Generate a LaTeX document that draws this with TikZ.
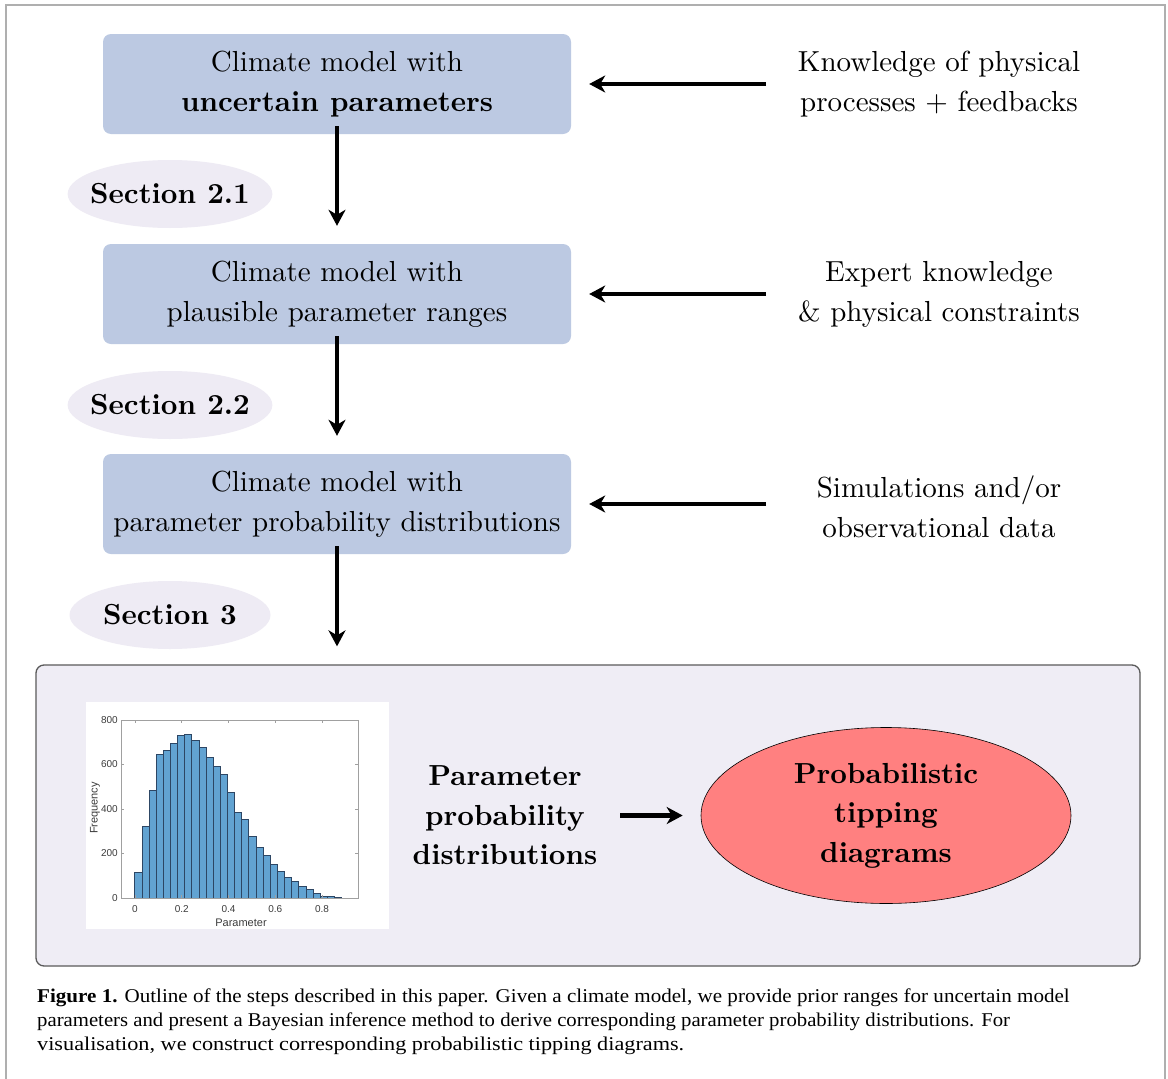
\documentclass[tikz,border=0pt]{standalone}
\usepackage{fontspec}
\newfontfamily\lmten{lmroman10-regular.otf}[BoldFont=lmroman10-bold.otf]
\newfontfamily\capfont{Liberation Serif}[FakeStretch=1.14]
\newfontfamily\plotfont{Liberation Sans}
\usetikzlibrary{shapes.geometric,arrows.meta}
\definecolor{boxblue}{RGB}{188,201,226}
\definecolor{seclav}{RGB}{238,235,244}
\definecolor{panelfill}{RGB}{239,237,245}
\definecolor{panelline}{RGB}{90,90,90}
\definecolor{tipred}{RGB}{255,128,128}
\definecolor{barblue}{RGB}{98,163,210}
\definecolor{baredge}{RGB}{45,70,100}
\definecolor{framegray}{RGB}{175,175,175}
\definecolor{axisgray}{RGB}{160,160,160}
\definecolor{ticklab}{RGB}{60,60,60}
\begin{document}
\begin{tikzpicture}[x=1pt,y=-1pt,
  mainfont/.style={font=\lmten\fontsize{29}{40}\selectfont},
  boldfont/.style={font=\lmten\bfseries\fontsize{29}{39.5}\selectfont},
  modelbox/.style={mainfont, fill=boxblue, rounded corners=8pt, minimum width=468pt, minimum height=100pt, align=center, inner sep=0pt},
  sidetext/.style={mainfont, align=center, inner sep=0pt},
  secell/.style={ellipse, fill=seclav, minimum width=201pt, minimum height=68pt, inner xsep=-7.5pt, inner ysep=0pt, boldfont},
  bigarrow/.style={line width=4.5pt, -{Stealth[length=16pt,width=17pt,inset=5pt]}},
  ticklabel/.style={font=\plotfont\fontsize{10}{12}\selectfont, text=ticklab, inner sep=0pt},
  axlabel/.style={font=\plotfont\fontsize{11}{13}\selectfont, text=ticklab, inner sep=0pt},
]
\useasboundingbox (0,0) rectangle (1168,1079);
\fill[white] (0,0) rectangle (1168,1079);
\draw[framegray, line width=1.2pt] (6,1079) -- (6,5) -- (1165,5) -- (1165,1079);

% model boxes
\node[modelbox] (m1) at (337,84) {Climate model with\\\textbf{uncertain parameters}};
\node[modelbox] (m2) at (337,294) {Climate model with\\plausible parameter ranges};
\node[modelbox] (m3) at (337,504) {Climate model with\\parameter probability distributions};

% side texts
\node[sidetext] (k1) at (939,84) {Knowledge of physical\\processes + feedbacks};
\node[sidetext] (k2) at (939,294) {Expert knowledge\\\& physical constraints};
\node[sidetext] (k3) at (939,507) {Simulations and/or\\observational data};

\coordinate (s1) at (766,84);
\coordinate (s2) at (766,294);
\coordinate (s3) at (766,504);
\draw[bigarrow, shorten >=18pt] (s1) -- (m1.east);
\draw[bigarrow, shorten >=18pt] (s2) -- (m2.east);
\draw[bigarrow, shorten >=18pt] (s3) -- (m3.east);

% section labels
\node[secell] (sec1) at (170,194) {Section 2.1};
\node[secell] (sec2) at (170,405) {Section 2.2};
\node[secell] (sec3) at (170,615) {Section 3};

% bottom panel
\node[draw=panelline, fill=panelfill, rounded corners=8pt, minimum width=1104pt, minimum height=301pt, line width=1.3pt, inner sep=0pt] (panel) at (588,815.5) {};

% vertical arrows
\draw[bigarrow, shorten <=-8pt, shorten >=18pt] (m1.south) -- (m2.north);
\draw[bigarrow, shorten <=-8pt, shorten >=18pt] (m2.south) -- (m3.north);
\draw[bigarrow, shorten <=-8pt, shorten >=18pt] (m3.south) -- (m3.south |- panel.north);

% histogram
\node[fill=white, minimum width=303pt, minimum height=227pt, inner sep=0pt] (hist) at (237.5,815.5) {};
\foreach \c [count=\i from 0] in {117,324,483,644,665,697,733,736,710,677,634,591,558,477,387,353,278,230,193,150,121,93,73,51,37,19,9,7,4}{
  \filldraw[fill=barblue, draw=baredge, line width=0.6pt] ({134.7+\i*7.13},898) rectangle ({134.7+(\i+1)*7.13},{898-\c*0.2225});
}
\draw[axisgray, line width=0.7pt] (121,720) rectangle (358,898);
\foreach \k/\lab in {0/0,1/0.2,2/0.4,3/0.6,4/0.8}{
  \draw[axisgray, line width=0.7pt] ({135+\k*46.75},898) -- ({135+\k*46.75},895);
  \draw[axisgray, line width=0.7pt] ({135+\k*46.75},720) -- ({135+\k*46.75},723);
  \node[ticklabel] at ({135+\k*46.75},909) {\lab};
}
\foreach \k/\lab in {0/0,1/200,2/400,3/600,4/800}{
  \draw[axisgray, line width=0.7pt] (121,{898-\k*44.5}) -- (124,{898-\k*44.5});
  \draw[axisgray, line width=0.7pt] (358,{898-\k*44.5}) -- (355,{898-\k*44.5});
  \node[ticklabel, anchor=east] at (118,{898-\k*44.5}) {\lab};
}
\node[axlabel, rotate=90] (ylab) at (95,808) {Frequency};
\node[axlabel] (xlab) at (241,923) {Parameter};

% parameter distributions -> tipping diagrams
\node[boldfont, align=center, inner sep=0pt] (pp) at (505,815.5) {Parameter\\probability\\distributions};
\node[ellipse, draw=black, line width=0.6pt, fill=tipred, minimum width=370pt, minimum height=176pt, inner sep=0pt, boldfont, align=center] (tip) at (886,815.5) {Probabilistic\\tipping\\diagrams};
\draw[bigarrow, shorten <=23pt, shorten >=18pt] (pp.east) -- (tip.west);

% caption
\node[anchor=north west, inner sep=0pt, align=left, font=\capfont\fontsize{19.5}{24}\selectfont] (cap) at (37,989) {\scalebox{0.948}[1]{\textbf{Figure 1.} Outline of the steps described in this paper. Given a climate model, we provide prior ranges for uncertain model}\\\scalebox{0.933}[1]{parameters and present a Bayesian inference method to derive corresponding parameter probability distributions. For}\\visualisation, we construct corresponding probabilistic tipping diagrams.};
\end{tikzpicture}
\end{document}
